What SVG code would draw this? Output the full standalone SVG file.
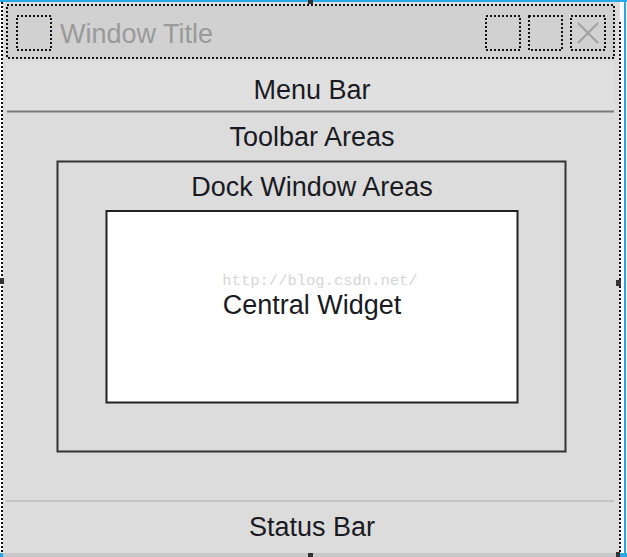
<svg xmlns="http://www.w3.org/2000/svg" width="627" height="557" viewBox="0 0 627 557">
<style>
.lbl{font-family:"Liberation Sans",Arial,sans-serif;font-size:27px;fill:#1a1a22;text-anchor:middle}
.dot{fill:none;stroke:#111;stroke-width:2;stroke-dasharray:2 2}
.box{fill:none;stroke:#333;stroke-width:2}
.handle{fill:#333}
</style>
<rect x="0" y="0" width="627" height="557" fill="#ffffff"/>
<g id="window">
<rect x="3" y="2" width="617" height="552" fill="#dcdcdc"/>
<line x1="2" y1="2" x2="2" y2="552" class="dot"/>
<line x1="620" y1="22" x2="620" y2="552" class="dot"/>
<line x1="0" y1="1" x2="627" y2="1" stroke="#29a8e8" stroke-width="2"/>
<line x1="625" y1="0" x2="625" y2="557" stroke="#29a8e8" stroke-width="2"/>
<rect x="0" y="553" width="627" height="4" fill="#c8c8c8"/>
<rect x="0" y="553" width="3" height="4" fill="#29a8e8"/>
<rect x="619" y="553" width="8" height="4" fill="#29a8e8"/>
<rect x="308" y="553" width="5" height="4" class="handle"/>
<rect x="308" y="0" width="5" height="4" class="handle"/>
<rect x="0" y="278" width="4" height="6" class="handle"/>
<rect x="616" y="280" width="5" height="6" class="handle"/>
<rect x="616" y="552" width="4" height="5" class="handle"/>
</g>
<g id="title-bar">
<rect x="6" y="5" width="609" height="53" fill="#d1d1d1"/>
<rect x="7" y="5" width="607" height="53" class="dot"/>
<rect x="17" y="16" width="34" height="34" class="dot" stroke-width="1.5"/>
<text x="60" y="43" style="font-family:'Liberation Sans',Arial,sans-serif;font-size:27px;fill:#9a9a9a">Window Title</text>
<rect x="486" y="16" width="34" height="34" class="dot" stroke-width="1.5"/>
<rect x="529" y="16" width="33" height="34" class="dot" stroke-width="1.5"/>
<rect x="571" y="16" width="34" height="34" class="dot" stroke-width="1.5"/>
<path d="M578 23 L598 43 M598 23 L578 43" stroke="#a0a0a0" stroke-width="2" fill="none"/>
</g>
<g id="menu-bar">
<rect x="6" y="62" width="608" height="49" fill="#e0e0e0"/>
<line x1="7" y1="111.5" x2="614" y2="111.5" stroke="#7a7a7a" stroke-width="2"/>
<text x="312" y="99" class="lbl">Menu Bar</text>
</g>
<g id="toolbar-areas">
<text x="312" y="146" class="lbl">Toolbar Areas</text>
</g>
<g id="dock-window-areas">
<rect x="57.5" y="161.5" width="508" height="290" class="box"/>
<text x="312" y="196" class="lbl">Dock Window Areas</text>
</g>
<g id="central-widget">
<rect x="106.5" y="211" width="411" height="191.5" fill="#ffffff" stroke="#222" stroke-width="2"/>
<text x="320" y="285" style="font-family:'Liberation Mono',monospace;font-size:15.5px;fill:#d6d6d6;text-anchor:middle">http://blog.csdn.net/</text>
<text x="312" y="314" class="lbl">Central Widget</text>
</g>
<g id="status-bar">
<line x1="6" y1="501" x2="614" y2="501" stroke="#c4c4c4" stroke-width="2"/>
<text x="312" y="536" class="lbl">Status Bar</text>
</g>
<g id="connectors"/>
</svg>
